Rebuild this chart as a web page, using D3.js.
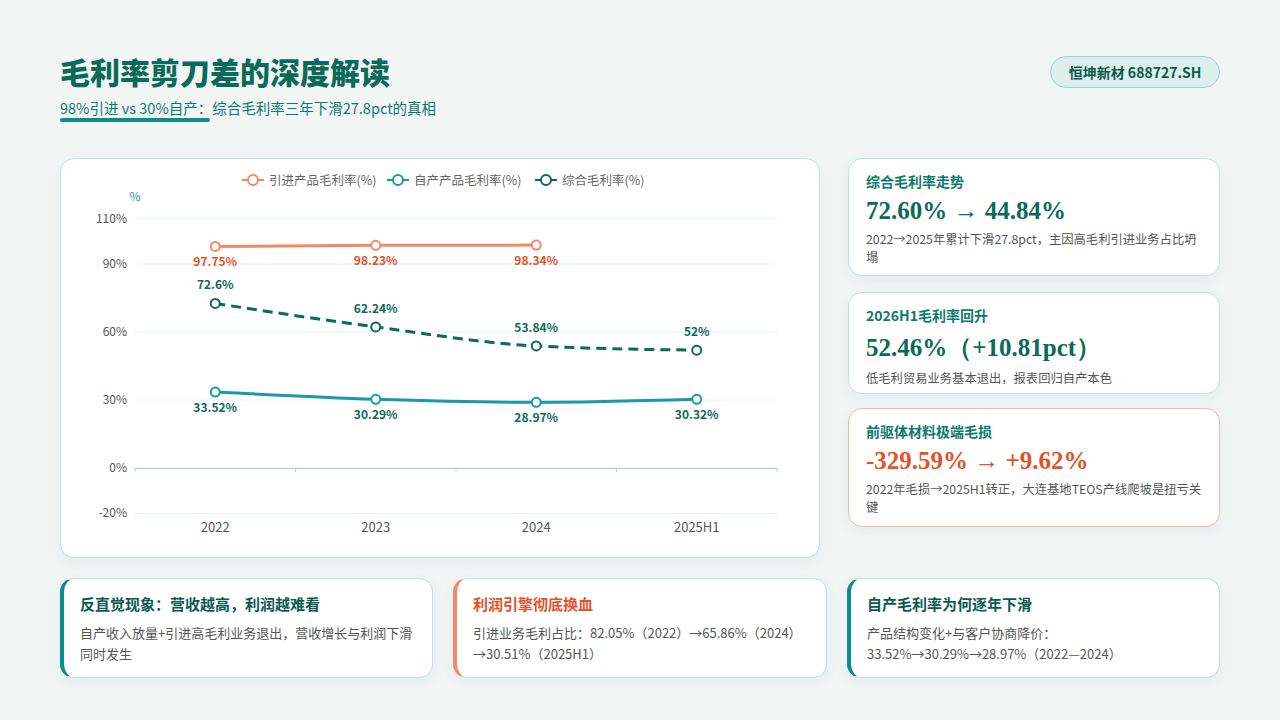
<!DOCTYPE html>
<html><head><meta charset="utf-8">
<script src="https://cdn.jsdelivr.net/npm/d3@7"></script>
<style>
body{margin:0;width:1280px;height:720px;background:#f1f6f5;font-family:"Noto Sans CJK SC","Noto Sans",sans-serif;position:relative;overflow:hidden}
.abs{position:absolute}
.card{position:absolute;background:#fff;border:1px solid #bfe2e4;border-radius:14px;box-shadow:0 4px 14px rgba(0,80,80,0.06);box-sizing:border-box}
.rt{font-size:14px;font-weight:700;color:#0e7a6a}
.big{font-family:"Liberation Serif","DejaVu Serif",serif;font-weight:700;font-size:25px;color:#0c6a58;margin-top:6px}
.desc{font-size:12.3px;color:#555;line-height:18px;margin-top:5px}
.bt{font-size:15px;font-weight:700;color:#0c5a4e}
.bd{font-size:13px;color:#555;line-height:21px;margin-top:8px}
</style></head><body>
<div class="abs" style="left:60px;top:49px;font-size:30px;font-weight:900;color:#0c6a58">毛利率剪刀差的深度解读</div>
<div class="abs" style="left:60px;top:97px;font-size:14.5px;color:#0e7a6a">98%引进 vs 30%自产：综合毛利率三年下滑27.8pct的真相</div>
<div class="abs" style="left:60px;top:118px;width:150px;height:4px;border-radius:2px;background:#0f8a8a"></div>
<div class="abs" style="left:1050px;top:56px;width:170px;height:32px;border-radius:16px;background:#dcefeb;border:1px solid #9fd3cc;box-sizing:border-box;text-align:center;line-height:30px;font-size:14px;font-weight:700;color:#0c5a4e">恒坤新材 688727.SH</div>

<div class="card" style="left:60px;top:158px;width:760px;height:400px"></div>
<svg id="chart" class="abs" style="left:0;top:0" width="840" height="570"></svg>

<div class="card" style="left:848px;top:158px;width:372px;height:118px;padding:12px 14px 12px 17px">
<div class="rt">综合毛利率走势</div><div class="big">72.60% → 44.84%</div>
<div class="desc">2022→2025年累计下滑27.8pct，主因高毛利引进业务占比坍塌</div></div>
<div class="card" style="left:848px;top:292px;width:372px;height:102px;padding:12px 14px 12px 17px">
<div class="rt">2026H1毛利率回升</div><div class="big">52.46%（+10.81pct）</div>
<div class="desc">低毛利贸易业务基本退出，报表回归自产本色</div></div>
<div class="card" style="left:848px;top:408px;width:372px;height:119px;padding:12px 14px 12px 17px;border-color:#f6b8a4">
<div class="rt">前驱体材料极端毛损</div><div class="big" style="color:#e4512a">-329.59% → +9.62%</div>
<div class="desc">2022年毛损→2025H1转正，大连基地TEOS产线爬坡是扭亏关键</div></div>

<div class="card" style="left:60px;top:578px;width:373px;height:100px;padding:14px 12px 14px 16px;border-left:4px solid #0f8a8a">
<div class="bt">反直觉现象：营收越高，利润越难看</div>
<div class="bd">自产收入放量+引进高毛利业务退出，营收增长与利润下滑同时发生</div></div>
<div class="card" style="left:453px;top:578px;width:374px;height:100px;padding:14px 12px 14px 16px;border-left:4px solid #f4896a">
<div class="bt" style="color:#e4512a">利润引擎彻底换血</div>
<div class="bd">引进业务毛利占比：82.05%（2022）→65.86%（2024）→30.51%（2025H1）</div></div>
<div class="card" style="left:847px;top:578px;width:373px;height:100px;padding:14px 12px 14px 16px;border-left:4px solid #0f8a8a">
<div class="bt">自产毛利率为何逐年下滑</div>
<div class="bd">产品结构变化+与客户协商降价：33.52%→30.29%→28.97%（2022—2024）</div></div>

<script>
const categories=["2022","2023","2024","2025H1"];
const importVals=[97.75,98.23,98.34,null];
const selfVals=[33.52,30.29,28.97,30.32];
const totalVals=[72.6,62.24,53.84,52];
const yTicks=[-20,0,30,60,90,110];
const seriesNames=["引进产品毛利率(%)","自产产品毛利率(%)","综合毛利率(%)"];
const colors=["#f4896a","#1a9aa8","#0f6a58"];
const labelColors=["#e4512a","#0f6a58","#0f6a58"];

const svg=d3.select("#chart");
const x=d3.scaleBand().domain(categories).range([135,777]);
const y=d3.scaleLinear().domain([-20,110]).range([513.3,218.7]);
const cx=c=>x(c)+x.bandwidth()/2;

svg.append("g").selectAll("line").data(yTicks).join("line")
 .attr("x1",135).attr("x2",777).attr("y1",d=>y(d)).attr("y2",d=>y(d)).attr("stroke","#e3f1f2");
svg.append("g").selectAll("text").data(yTicks).join("text")
 .attr("x",127).attr("y",d=>y(d)+4).attr("text-anchor","end").attr("font-size",12).attr("fill","#555").text(d=>d+"%");
svg.append("text").attr("x",135).attr("y",201).attr("text-anchor","middle").attr("font-size",12).attr("fill","#1a9a8a").text("%");
const ax=svg.append("g").attr("transform",`translate(0,${y(0)})`).call(d3.axisBottom(x).tickSize(0).tickFormat(""));
ax.select(".domain").attr("stroke","#a9d6dc");
svg.append("g").selectAll("line").data(d3.range(5)).join("line")
 .attr("x1",i=>135+i*x.bandwidth()).attr("x2",i=>135+i*x.bandwidth()).attr("y1",y(0)).attr("y2",y(0)+4).attr("stroke","#a9d6dc");
svg.append("g").selectAll("text").data(categories).join("text")
 .attr("x",cx).attr("y",532).attr("text-anchor","middle").attr("font-size",13).attr("fill","#555").text(d=>d);

const data=[importVals,selfVals,totalVals];
const line=d3.line().defined(d=>d.v!=null).x(d=>cx(d.c)).y(d=>y(d.v)).curve(d3.curveMonotoneX);
data.forEach((vals,i)=>{
 const pts=categories.map((c,j)=>({c,v:vals[j]}));
 svg.append("path").datum(pts).attr("d",line).attr("fill","none").attr("stroke",colors[i]).attr("stroke-width",3)
  .attr("stroke-dasharray",i==2?"10,6":null);
 const p=pts.filter(d=>d.v!=null);
 svg.append("g").selectAll("circle").data(p).join("circle").attr("cx",d=>cx(d.c)).attr("cy",d=>y(d.v)).attr("r",4.5)
  .attr("fill","#fff").attr("stroke",colors[i]).attr("stroke-width",2);
 svg.append("g").selectAll("text").data(p).join("text").attr("x",d=>cx(d.c)).attr("y",d=>y(d.v)+(i==2?-14:20))
  .attr("text-anchor","middle").attr("font-size",12).attr("font-weight",700).attr("fill",labelColors[i]).text(d=>d.v+"%");
});
const lx=[242,387,535];
seriesNames.forEach((n,i)=>{
 const g=svg.append("g").attr("transform",`translate(${lx[i]},180)`);
 g.append("line").attr("x1",0).attr("x2",22).attr("stroke",colors[i]).attr("stroke-width",2);
 g.append("circle").attr("cx",11).attr("r",5).attr("fill","#fff").attr("stroke",colors[i]).attr("stroke-width",2);
 g.append("text").attr("x",27).attr("y",4.5).attr("font-size",12.5).attr("fill","#666").text(n);
});
</script>
</body></html>
